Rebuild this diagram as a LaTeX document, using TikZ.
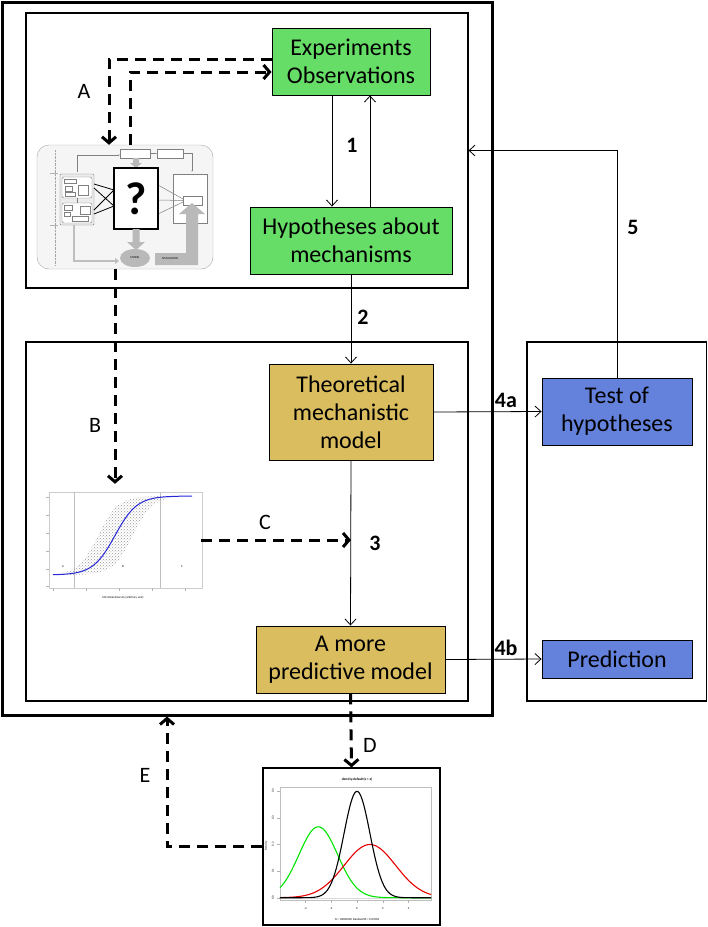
\documentclass[tikz,border=0pt]{standalone}
\usepackage{fontspec}
\setmainfont{Carlito}
\usetikzlibrary{arrows.meta}
\usetikzlibrary{patterns}
\definecolor{boxgreen}{RGB}{102,221,102}
\definecolor{boxgold}{RGB}{217,189,95}
\definecolor{boxblue}{RGB}{100,130,220}

\begin{document}
\begin{tikzpicture}[x=1pt, y=-1pt,
    frame/.style={draw, line width=1.1pt, inner sep=0pt},
    stepbox/.style={draw, line width=0.9pt, inner sep=0pt, align=center, font=\fontsize{24}{28}\selectfont},
    thinarrow/.style={line width=0.8pt, -{Straight Barb[length=6pt, width=11pt]}},
    dasharrow/.style={line width=3pt, dash pattern=on 11pt off 7pt, -{Straight Barb[length=6pt, width=14pt]}},
    numlabel/.style={font=\fontsize{22}{22}\selectfont\bfseries},
    letlabel/.style={font=\fontsize{22}{22}\selectfont},
    tiny/.style={font=\fontsize{3}{3.5}\selectfont, inner sep=0pt}]
    \useasboundingbox (0,0) rectangle (708,927);

    \node[frame, line width=3pt, minimum width=490, minimum height=713] (outer) at (247,358.5) {};
    \node[frame, minimum width=442, minimum height=275] (topbox) at (247,150.5) {};
    \node[frame, minimum width=442, minimum height=359] (midbox) at (247,521.5) {};
    \node[frame, minimum width=179.5, minimum height=359] (rightbox) at (616.75,521.5) {};

    \node[stepbox, fill=boxgreen, minimum width=158, minimum height=67] (exp) at (351,61.5) {Experiments\\Observations};
    \node[stepbox, fill=boxgreen, minimum width=202, minimum height=67] (hyp) at (351,240.5) {Hypotheses about\\mechanisms};
    \node[stepbox, fill=boxgold, minimum width=164, minimum height=96] (theo) at (351,412) {Theoretical\\mechanistic\\model};
    \node[stepbox, fill=boxgold, minimum width=189, minimum height=67] (pred) at (350.5,659.5) {A more\\predictive model};
    \node[stepbox, fill=boxblue, minimum width=150, minimum height=67] (test) at (617,411.5) {Test of\\hypotheses};
    \node[stepbox, fill=boxblue, minimum width=150, minimum height=38] (predn) at (617,659) {Prediction};

    % scheme with the question mark
    \node[draw=gray!70, fill=gray!8, rounded corners=12pt, minimum width=176, minimum height=124] (scheme) at (125,207) {};
    \draw[gray!70, densely dotted] (55,150) -- (55,265);
    \draw[gray!60] (50,173) -- (58,173) (50,225) -- (58,225);
    \draw[gray, fill=white, line width=0.3pt] (120,149) rectangle (150,158) (157,149) rectangle (183,158);
    \draw[gray, line width=0.3pt, -{Latex[length=1.5pt]}] (150,153.5) -- (157,153.5);
    \draw[gray, line width=0.3pt, -{Latex[length=1.5pt]}] (77,172) -- (77,155) -- (120,155);
    \draw[gray, line width=0.3pt, -{Latex[length=1.5pt]}] (183,153.5) -- (192,153.5) -- (192,172);
    \draw[gray, fill=gray!15, line width=0.4pt, rounded corners=1pt] (60,174) rectangle (94,225);
    \draw[gray, fill=white, line width=0.4pt, rounded corners=2pt] (62,177) rectangle (92,198) (62,203) rectangle (92,223);
    \draw[gray, line width=0.3pt] (64,179) rectangle (76,183) (65,186) rectangle (72,191) (78,185) rectangle (88,195) (65,192) rectangle (75,196) (64,205) rectangle (72,210) (64,212) rectangle (70,216) (80,206) rectangle (90,214) (72,216) rectangle (88,221);
    \draw[gray, line width=0.3pt] (77,198) -- (77,203);
    \draw[gray, fill=white, line width=0.4pt] (173,174) rectangle (207,223) (183,196) rectangle (202,205);
    \fill[gray!55] (133,158) rectangle (139,163) -- (130,163) -- (136,168) -- (142,163);
    \draw[line width=0.8pt] (94,184) -- (114,190) (94,188) -- (114,206) (94,210) -- (114,190) (94,214) -- (114,206);
    \draw[gray, line width=0.5pt] (158,185) -- (183,199) (158,200) -- (183,200.5) (158,214) -- (183,202);
    \node[draw, line width=1.2pt, fill=white, inner sep=0pt, minimum width=44, minimum height=61, font=\fontsize{46}{46}\selectfont\bfseries] (qbox) at (136,198.5) {?};
    \fill[gray!55] (132.5,229) rectangle (139.5,242) (127,242) -- (145,242) -- (136,250) -- cycle;
    \fill[gray!55] (135,258) ellipse (15 and 9);
    \node[tiny] at (135,258) {MODEL};
    \draw[gray!50, line width=2pt, -{Triangle[length=4pt, width=6pt]}] (74,225) -- (74,261) -- (119,261);
    \fill[gray!55] (155,253) rectangle (198,265) (186,253) rectangle (198,214) (179,214) -- (205,214) -- (192,203) -- cycle;
    \node[tiny] at (170,259) {SIMULATION};

    % sigmoid plot
    \node[inner sep=0pt, minimum width=162, minimum height=120] (sigmoid) at (120,544) {};
    \draw[gray!40, line width=0.4pt] (49,492) rectangle (202,588);
    \draw[gray!50, line width=0.4pt] (74,492) -- (74,588) (160,492) -- (160,588);
    \fill[gray!15, pattern=crosshatch dots, pattern color=gray!80] plot[domain=58:172, samples=40] (\x,{575-79/(1+exp(-(\x-98)/10))}) -- plot[domain=172:58, samples=40] (\x,{575-79/(1+exp(-(\x-133)/10))}) -- cycle;
    \draw[blue!70!gray, line width=1pt] plot[domain=53:192, samples=60] (\x,{575-79/(1+exp(-(\x-115)/11))});
    \foreach \yy in {497,515,533,551,569,586} {\draw[gray!60, line width=0.3pt] (46,\yy) -- (49,\yy);}
    \foreach \xx in {53,86,119,152,185} {\draw[gray!60, line width=0.3pt] (\xx,588) -- (\xx,591);}
    \node[tiny] at (63,567) {A};
    \node[tiny] at (123,567) {B};
    \node[tiny] at (182,567) {C};
    \node[tiny] at (123,598) {Microbial diversity (arbitrary unit)};

    % density plot
    \node[draw, line width=1.2pt, inner sep=0pt, minimum width=177, minimum height=157] (density) at (351.5,846.5) {};
    \node[tiny, font=\fontsize{3.5}{4}\selectfont\bfseries] at (357,779) {density.default(x = x)};
    \draw[gray!50, line width=0.4pt] (280,787) rectangle (431,900);
    \draw[gray!30, line width=0.4pt] (280,897.7) -- (431,897.7);
    \foreach \v in {0.0,0.1,0.2,0.3,0.4} {
      \draw[gray!60, line width=0.3pt] (277,{897.7-266.7*\v}) -- (280,{897.7-266.7*\v});
      \node[tiny, rotate=90] at (273,{897.7-266.7*\v}) {\v};
    }
    \foreach \t in {-4,-2,0,2,4} {
      \draw[gray!60, line width=0.3pt] ({357+12.9*\t},900) -- ({357+12.9*\t},903);
      \node[tiny] at ({357+12.9*\t},909) {\t};
    }
    \node[tiny, rotate=90] at (266,846) {Density};
    \node[tiny] at (357,919) {N = 10000000 \ Bandwidth = 0.03502};
    \draw[green!90!black, line width=1.1pt] plot[domain=-5.97:5.74, samples=80] ({357+12.9*\x},{897.7-266.7*0.266*exp(-(\x+3)^2/4.5)});
    \draw[red!90!black, line width=1.1pt] plot[domain=-5.97:5.74, samples=80] ({357+12.9*\x},{897.7-266.7*0.1995*exp(-(\x-1)^2/8)});
    \draw[black, line width=1.1pt] plot[domain=-5.97:5.74, samples=100] ({357+12.9*\x},{897.7-266.7*0.3989*exp(-(\x)^2/2)});

    \coordinate (a1) at (109,59);
    \coordinate (a2) at (130,72);
    \coordinate (b1) at (115,0);
    \coordinate (c3) at (351,540);
    \coordinate (e1) at (167,0);

    \draw[thinarrow] ([xshift=-19pt]exp.south) -- ([xshift=-19pt]exp.south |- hyp.north);
    \draw[thinarrow] ([xshift=19pt]exp.south |- hyp.north) -- ([xshift=19pt]exp.south);
    \draw[thinarrow] (hyp.south) -- (theo.north);
    \draw[thinarrow] (theo.south) -- (pred.north);
    \draw[thinarrow] (theo.east) -- (test.west);
    \draw[thinarrow] (pred.east) -- (predn.west);
    \draw[thinarrow] (test.north) |- (topbox.east);

    \draw[dasharrow] (exp.west |- a1) -| (scheme.north -| a1);
    \draw[dasharrow] (scheme.north -| a2) |- (exp.west |- a2);
    \draw[dasharrow] (scheme.south -| b1) -- (sigmoid.north -| b1);
    \draw[dasharrow] (sigmoid.east |- c3) -- (c3);
    \draw[dasharrow] (pred.south) -- (density.north);
    \draw[dasharrow] (density.west) -| (outer.south -| e1);

    \node[numlabel] at (352,145) {1};
    \node[numlabel] at (363,317) {2};
    \node[numlabel] at (375,543) {3};
    \node[numlabel] at (506,400) {4a};
    \node[numlabel] at (506,648) {4b};
    \node[numlabel] at (633,227) {5};
    \node[letlabel] at (84,91) {A};
    \node[letlabel] at (95,425) {B};
    \node[letlabel] at (265,522) {C};
    \node[letlabel] at (370,745) {D};
    \node[letlabel] at (145,775) {E};
\end{tikzpicture}
\end{document}
